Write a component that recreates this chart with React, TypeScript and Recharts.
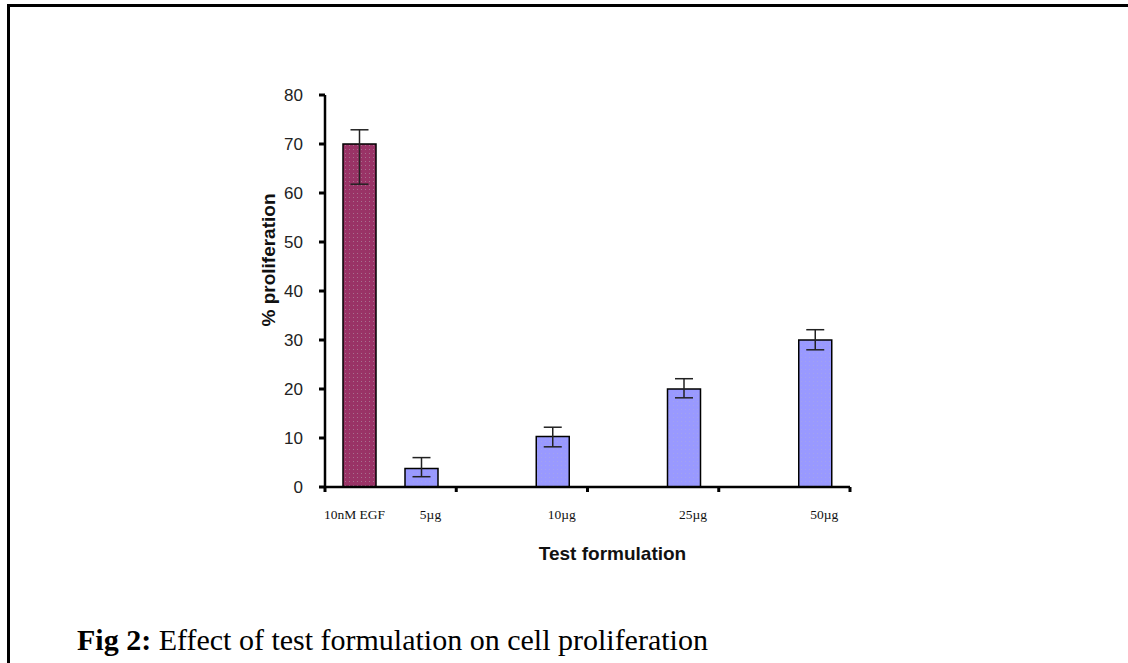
import React from "react";
import { BarChart, Bar, XAxis, YAxis, ErrorBar, LabelList } from "recharts";

// groups on the x axis (EGF control shares the first slot with 5µg)
const groups = ["EGF / 5µg", "10µg", "25µg", "50µg"];

const egfValues = [70, null, null, null];
const egfErrors = [[8.2, 2.9], null, null, null];
const egfLabels = ["10nM EGF", null, null, null];

const doseValues = [3.8, 10.3, 20, 30];
const doseErrors = [
  [1.7, 2.2],
  [2.1, 1.9],
  [1.8, 2.1],
  [2, 2.1],
];
const doseLabels = ["5µg", "10µg", "25µg", "50µg"];

const yTicks = [0, 10, 20, 30, 40, 50, 60, 70, 80];

const data = groups.map((g, i) => ({
  group: g,
  egf: egfValues[i],
  egfErr: egfErrors[i],
  egfLabel: egfLabels[i],
  dose: doseValues[i],
  doseErr: doseErrors[i],
  doseLabel: doseLabels[i],
}));

const SANS = "'Liberation Sans', Arial, sans-serif";
const SERIF = "'Liberation Serif', 'Times New Roman', serif";

// x axis ticks sit on the group boundaries, not at the centres
function EdgeTick(props: any) {
  const { x, y, payload, index, visibleTicksCount } = props;
  const half = payload?.offset ?? 0;
  const marks = [x - half];
  if (index === visibleTicksCount - 1) marks.push(x + half);
  return (
    <g>
      {marks.map((mx) => (
        <line key={mx} x1={mx} x2={mx} y1={y} y2={y + 5} stroke="#000" strokeWidth={3} />
      ))}
    </g>
  );
}

function barLabel(dx: number) {
  return (props: any) => {
    const { x, y, width, height, value } = props;
    if (!value) return null;
    return (
      <text
        x={x + width / 2 + dx}
        y={y + height + 27}
        textAnchor="middle"
        dominantBaseline="central"
        fontFamily={SERIF}
        fontSize={13.5}
        fill="#111"
      >
        {value}
      </text>
    );
  };
}

export default function App() {
  return (
    <div
      style={{
        position: "absolute",
        left: 0,
        top: 0,
        width: 1128,
        height: 663,
        background: "#fff",
        overflow: "hidden",
      }}
    >
      <div
        style={{
          position: "absolute",
          left: 7,
          top: 4,
          right: -10,
          bottom: -10,
          borderTop: "3px solid #000",
          borderLeft: "3px solid #000",
        }}
      />
      <div style={{ position: "absolute", left: 0, top: 0 }}>
        <BarChart
          width={1128}
          height={663}
          data={data}
          margin={{ top: 95, right: 278, bottom: 146, left: 265 }}
          barSize={33}
          barGap={29}
        >
          <defs>
            <pattern id="dotsMaroon" width="4" height="4" patternUnits="userSpaceOnUse">
              <rect width="4" height="4" fill="#993366" />
              <rect x="1" y="1" width="1" height="1" fill="#a8708e" />
            </pattern>
            <pattern id="dotsBlue" width="4" height="4" patternUnits="userSpaceOnUse">
              <rect width="4" height="4" fill="#9999ff" />
              <rect x="1" y="1" width="1" height="1" fill="#a3a3ee" />
            </pattern>
          </defs>
          <XAxis
            dataKey="group"
            height={30}
            axisLine={{ stroke: "#000", strokeWidth: 2.5 }}
            tickLine={false}
            tickSize={0}
            tickMargin={0}
            tick={<EdgeTick />}
            interval={0}
            label={(p: any) => {
              const vb = p.viewBox;
              return (
                <text
                  x={vb.x + vb.width / 2 + 25}
                  y={553}
                  textAnchor="middle"
                  dominantBaseline="central"
                  fontFamily={SANS}
                  fontWeight="bold"
                  fontSize={19}
                  fill="#111"
                >
                  Test formulation
                </text>
              );
            }}
          />
          <YAxis
            width={60}
            domain={[0, 80]}
            ticks={yTicks}
            interval={0}
            axisLine={{ stroke: "#000", strokeWidth: 2.5 }}
            tickLine={{ stroke: "#000", strokeWidth: 3 }}
            tickSize={6}
            tickMargin={16}
            tick={{ fontFamily: SANS, fontSize: 17, fill: "#222" }}
            label={(p: any) => {
              const vb = p.viewBox;
              const cx = vb.x + 3;
              const cy = 260;
              return (
                <text
                  x={cx}
                  y={cy}
                  transform={`rotate(-90 ${cx} ${cy})`}
                  textAnchor="middle"
                  dominantBaseline="central"
                  fontFamily={SANS}
                  fontWeight="bold"
                  fontSize={19}
                  fill="#111"
                >
                  % proliferation
                </text>
              );
            }}
          />
          <Bar
            dataKey="egf"
            fill="url(#dotsMaroon)"
            stroke="#000"
            strokeWidth={1.5}
            isAnimationActive={false}
          >
            <ErrorBar dataKey="egfErr" width={9} stroke="#222" strokeWidth={1.5} />
            <LabelList dataKey="egfLabel" content={barLabel(-5)} />
          </Bar>
          <Bar
            dataKey="dose"
            fill="url(#dotsBlue)"
            stroke="#000"
            strokeWidth={1.5}
            isAnimationActive={false}
          >
            <ErrorBar dataKey="doseErr" width={9} stroke="#222" strokeWidth={1.5} />
            <LabelList dataKey="doseLabel" content={barLabel(9)} />
          </Bar>
        </BarChart>
      </div>
      <div
        style={{
          position: "absolute",
          left: 77,
          top: 625,
          fontFamily: SERIF,
          fontSize: 30,
          lineHeight: "30px",
          color: "#000",
          whiteSpace: "nowrap",
        }}
      >
        <b>Fig 2:</b> Effect of test formulation on cell proliferation
      </div>
    </div>
  );
}
